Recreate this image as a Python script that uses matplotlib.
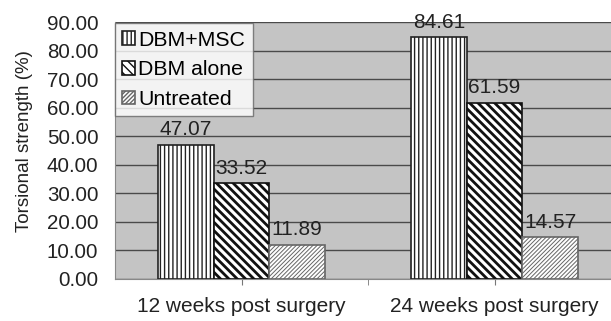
import numpy as np
import matplotlib
matplotlib.use('Agg')
import matplotlib.pyplot as plt

plt.rcParams['font.family'] = ['Liberation Sans', 'DejaVu Sans']
plt.rcParams['hatch.linewidth'] = 1.0

# Data
categories = ['12 weeks post surgery', '24 weeks post surgery']
series = ['DBM+MSC', 'DBM alone', 'Untreated']
dbm_msc = [47.07, 84.61]
dbm_alone = [33.52, 61.59]
untreated = [11.89, 14.57]
values = [dbm_msc, dbm_alone, untreated]

hatches = ['||||', '\\\\\\\\', '////////']
hatch_lw = [1.0, 2.0, 0.7]
edge_cols = ['#222222', '#111111', '#666666']

fig = plt.figure(figsize=(6.11, 3.21), dpi=100)
ax = fig.add_axes([115 / 611, 42 / 321, 496 / 611, 257 / 321])
ax.set_facecolor('#c4c4c4')

x = np.arange(len(categories))
width = 0.22
for i, (name, vals) in enumerate(zip(series, values)):
    pos = x + (i - 1) * width
    bars = ax.bar(pos, vals, width, color='white', edgecolor=edge_cols[i],
                  hatch=hatches[i], linewidth=1.2, label=name, zorder=3)
    for b, v in zip(bars, vals):
        if hasattr(b, 'set_hatch_linewidth'):
            b.set_hatch_linewidth(hatch_lw[i])
        ax.text(b.get_x() + b.get_width() / 2, v + 2.0, f'{v:.2f}',
                ha='center', va='bottom', fontsize=15, color='#222222', zorder=4)

ax.set_ylim(0, 90)
ax.set_xlim(-0.5, 1.46)
ax.set_yticks(np.arange(0, 91, 10))
ax.set_yticklabels([f'{t:.2f}' for t in np.arange(0, 91, 10)])
ax.yaxis.grid(True, color='#4a4a4a', linewidth=1.0, zorder=0)
ax.set_axisbelow(True)
ax.set_xticks(x)
ax.set_xticks([0.5], minor=True)
ax.set_xticklabels(categories)
ax.tick_params(axis='y', length=0, labelsize=14.8, colors='#222222', pad=12)
ax.tick_params(axis='x', which='both', length=4, color='#777777', direction='out')
ax.tick_params(axis='x', labelsize=15, labelcolor='#222222', pad=9)
ax.set_ylabel('Torsional strength (%)', fontsize=13.5, color='#222222')
ax.yaxis.set_label_coords(-0.165, 0.535)

for s in ['top', 'right']:
    ax.spines[s].set_visible(False)
ax.spines['left'].set_color('#888888')
ax.spines['bottom'].set_color('#888888')

leg = ax.legend(loc='upper left', bbox_to_anchor=(0.0, 0.995), fontsize=15.3,
                frameon=True, fancybox=False, edgecolor='#666666',
                handlelength=0.6, handleheight=0.6, handletextpad=0.15,
                borderpad=0.35, labelspacing=0.5, borderaxespad=0.0)
leg.get_frame().set_linewidth(1.0)

fig.savefig('out.png', dpi=100)
